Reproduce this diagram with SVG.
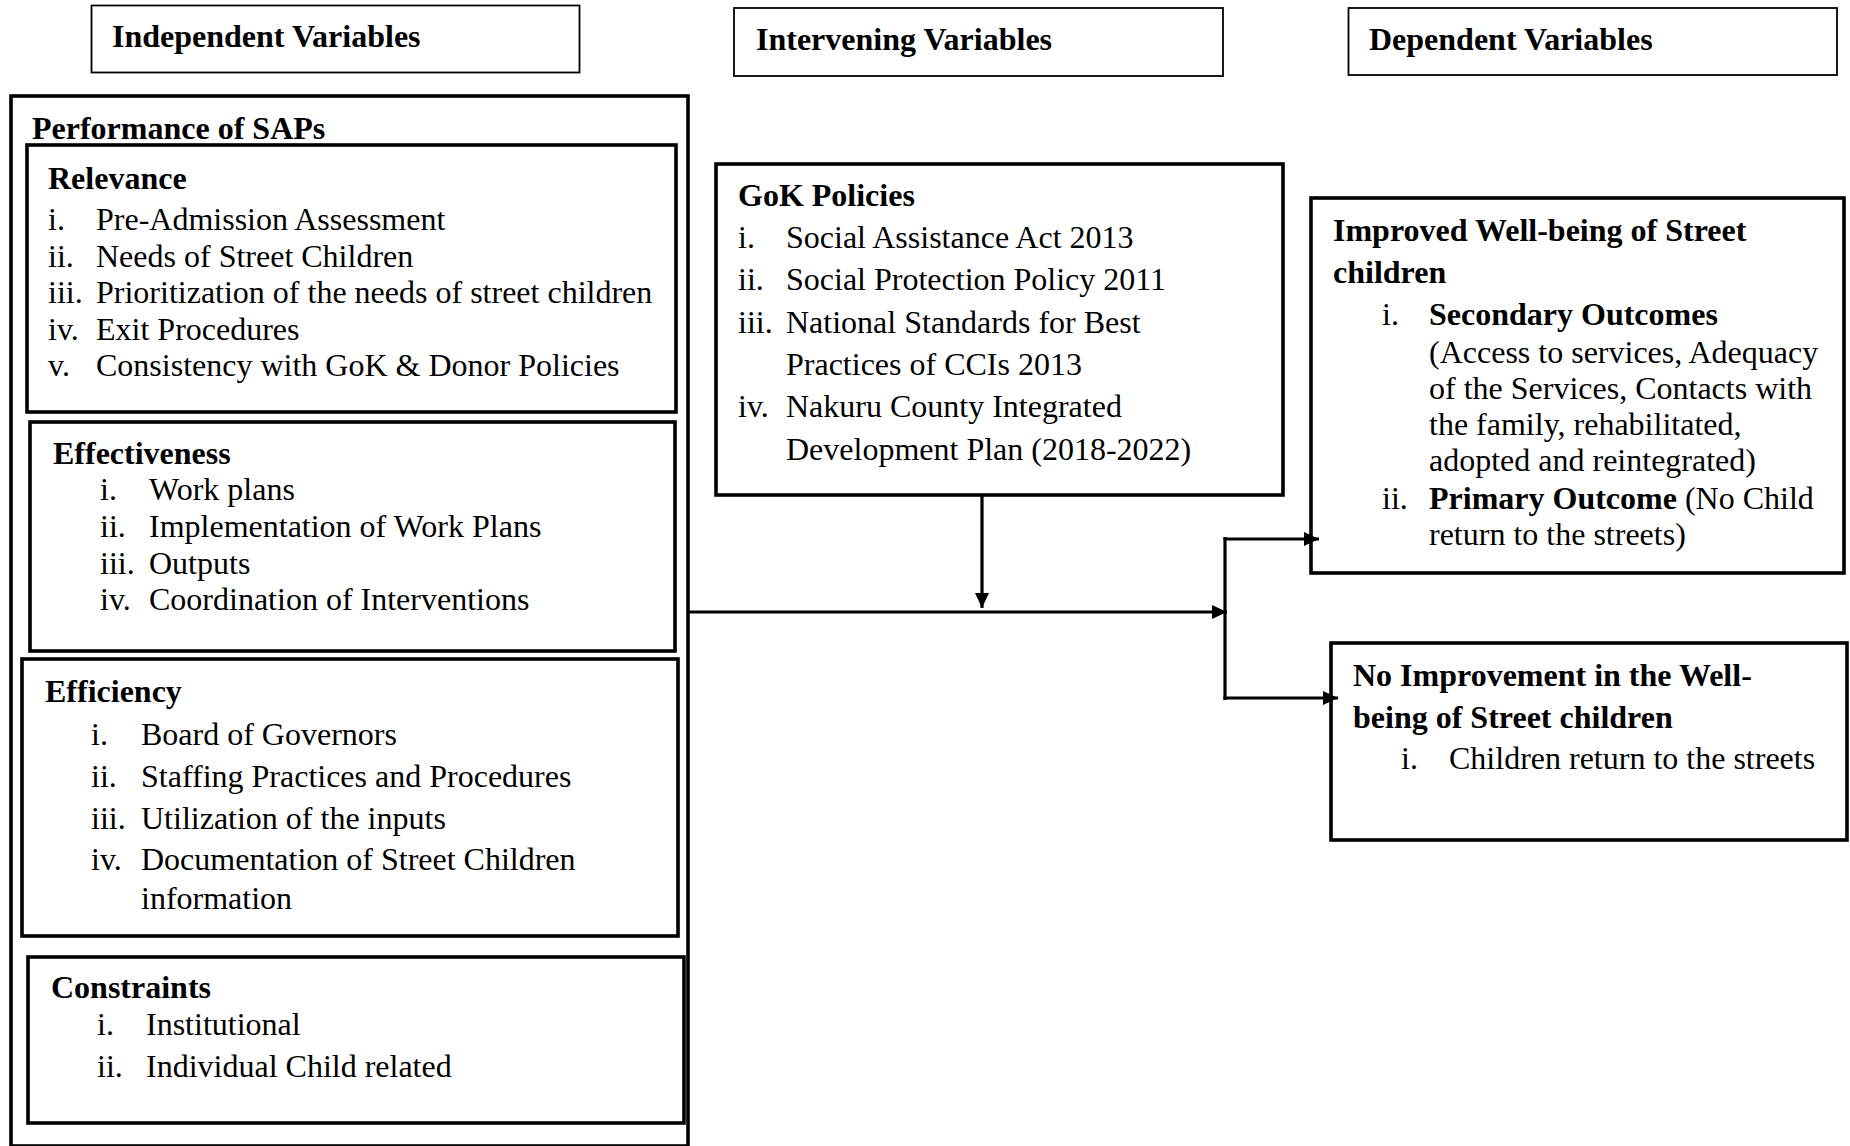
<svg xmlns="http://www.w3.org/2000/svg" width="1850" height="1146" viewBox="0 0 1850 1146">
<style>
text{font-family:"Liberation Serif","Times New Roman",serif;font-size:32px;fill:#000}
.b{font-weight:bold}
.hdr{fill:#fff;stroke:#000;stroke-width:1.8}
.box{fill:#fff;stroke:#000;stroke-width:3.6}
.con{fill:none;stroke:#000;stroke-width:3.2}
</style>
<defs>
<marker id="ah" markerUnits="userSpaceOnUse" markerWidth="16" markerHeight="14" refX="15" refY="7" orient="auto">
<path d="M0,0 L15,7 L0,14 z" fill="#000"/>
</marker>
</defs>
<rect width="1850" height="1146" fill="#fff"/>

<g id="hdr-independent">
<rect class="hdr" x="91.5" y="5.5" width="488" height="67"/>
<text class="b" x="112" y="46.5">Independent Variables</text>
</g>
<g id="hdr-intervening">
<rect class="hdr" x="734" y="8" width="489" height="68"/>
<text class="b" x="756" y="50">Intervening Variables</text>
</g>
<g id="hdr-dependent">
<rect class="hdr" x="1348.5" y="8" width="488.5" height="67"/>
<text class="b" x="1369" y="50">Dependent Variables</text>
</g>

<g id="performance">
<rect class="box" x="11" y="96" width="677" height="1050"/>
<text class="b" x="32" y="138.5">Performance of SAPs</text>
</g>

<g id="relevance">
<rect class="box" x="27" y="145" width="649" height="267"/>
<text class="b" x="48" y="188.5">Relevance</text>
<text x="48" y="229.5">i.</text><text x="96" y="229.5">Pre-Admission Assessment</text>
<text x="48" y="266.5">ii.</text><text x="96" y="266.5">Needs of Street Children</text>
<text x="48" y="303">iii.</text><text x="96" y="303">Prioritization of the needs of street children</text>
<text x="48" y="339.5">iv.</text><text x="96" y="339.5">Exit Procedures</text>
<text x="48" y="375.5">v.</text><text x="96" y="375.5">Consistency with GoK &amp; Donor Policies</text>
</g>

<g id="effectiveness">
<rect class="box" x="30" y="422" width="645" height="229"/>
<text class="b" x="53" y="463.5">Effectiveness</text>
<text x="100" y="499.5">i.</text><text x="149" y="499.5">Work plans</text>
<text x="100" y="536.5">ii.</text><text x="149" y="536.5">Implementation of Work Plans</text>
<text x="100" y="573.5">iii.</text><text x="149" y="573.5">Outputs</text>
<text x="100" y="609.5">iv.</text><text x="149" y="609.5">Coordination of Interventions</text>
</g>

<g id="efficiency">
<rect class="box" x="22" y="659" width="656" height="277"/>
<text class="b" x="45" y="701.5">Efficiency</text>
<text x="91" y="744.5">i.</text><text x="141" y="744.5">Board of Governors</text>
<text x="91" y="786.5">ii.</text><text x="141" y="786.5">Staffing Practices and Procedures</text>
<text x="91" y="828.5">iii.</text><text x="141" y="828.5">Utilization of the inputs</text>
<text x="91" y="869.5">iv.</text><text x="141" y="869.5">Documentation of Street Children</text>
<text x="141" y="908.5">information</text>
</g>

<g id="constraints">
<rect class="box" x="28" y="957" width="656" height="166"/>
<text class="b" x="51" y="997.5">Constraints</text>
<text x="97" y="1034.5">i.</text><text x="146" y="1034.5">Institutional</text>
<text x="97" y="1076.5">ii.</text><text x="146" y="1076.5">Individual Child related</text>
</g>

<g id="gok-policies">
<rect class="box" x="716" y="164" width="567" height="331"/>
<text class="b" x="738" y="205.5">GoK Policies</text>
<text x="738" y="248">i.</text><text x="786" y="248">Social Assistance Act 2013</text>
<text x="738" y="290">ii.</text><text x="786" y="290">Social Protection Policy 2011</text>
<text x="738" y="333">iii.</text><text x="786" y="333">National Standards for Best</text>
<text x="786" y="375">Practices of CCIs 2013</text>
<text x="738" y="417">iv.</text><text x="786" y="417">Nakuru County Integrated</text>
<text x="786" y="460">Development Plan (2018-2022)</text>
</g>

<g id="improved">
<rect class="box" x="1311" y="198" width="533" height="375"/>
<text class="b" x="1333" y="240.5">Improved Well-being of Street</text>
<text class="b" x="1333" y="282.5">children</text>
<text x="1382" y="325">i.</text><text class="b" x="1429" y="325">Secondary Outcomes</text>
<text x="1429" y="362.5">(Access to services, Adequacy</text>
<text x="1429" y="398.5">of the Services, Contacts with</text>
<text x="1429" y="434.5">the family, rehabilitated,</text>
<text x="1429" y="471">adopted and reintegrated)</text>
<text x="1382" y="508.5">ii.</text><text x="1429" y="508.5"><tspan class="b">Primary Outcome</tspan> (No Child</text>
<text x="1429" y="544.5">return to the streets)</text>
</g>

<g id="no-improvement">
<rect class="box" x="1331" y="643" width="516" height="197"/>
<text class="b" x="1353" y="685.5">No Improvement in the Well-</text>
<text class="b" x="1353" y="727.5">being of Street children</text>
<text x="1401" y="768.5">i.</text><text x="1449" y="768.5">Children return to the streets</text>
</g>

<g id="connectors">
<line class="con" x1="688" y1="612" x2="1227" y2="612" marker-end="url(#ah)"/>
<line class="con" x1="982" y1="496" x2="982" y2="608" marker-end="url(#ah)"/>
<line class="con" x1="1225" y1="537" x2="1225" y2="700"/>
<line class="con" x1="1223.5" y1="539" x2="1319" y2="539" marker-end="url(#ah)"/>
<line class="con" x1="1223.5" y1="698" x2="1338" y2="698" marker-end="url(#ah)"/>
</g>
</svg>
